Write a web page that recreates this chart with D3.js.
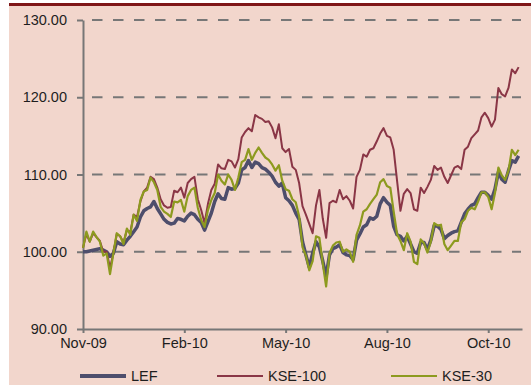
<!DOCTYPE html>
<html>
<head>
<meta charset="utf-8">
<script src="https://cdn.jsdelivr.net/npm/d3@7"></script>
<style>
  html, body { margin: 0; padding: 0; background: #fff; }
  svg { display: block; }
  text { font-family: "Liberation Sans", Arial, sans-serif; fill: #1e1e1e; }
</style>
</head>
<body>
<div id="chart"></div>
<script>
// tick labels sit every 30 observations
var tickIdx = [0, 30, 60, 90, 120];
var tickLabels = ['Nov-09', 'Feb-10', 'May-10', 'Aug-10', 'Oct-10'];
var yTicks = [90, 100, 110, 120, 130];

var seriesNames = ['LEF', 'KSE-100', 'KSE-30'];

var lef = [
  100.0, 100.0, 100.1, 100.2, 100.3, 100.4, 100.2, 100.0, 99.4, 99.8,
  101.3, 101.0, 100.9, 101.5, 102.0, 102.6, 103.2, 104.5, 105.3, 105.6,
  105.8, 106.5, 105.6, 104.9, 104.2, 103.8, 103.6, 103.7, 104.3, 104.2,
  104.0, 104.6, 105.0, 104.8, 104.2, 103.8, 102.8, 103.9, 105.0, 106.5,
  107.5, 106.9, 106.8, 108.3, 108.1, 108.2, 108.9, 110.6, 110.9, 111.8,
  110.9, 111.6, 111.4, 110.9, 110.7, 110.3, 109.8, 109.0, 108.5, 108.9,
  107.0, 106.6, 106.0, 105.0, 104.2, 101.3, 99.6, 98.0, 99.8, 101.3,
  100.6, 98.8, 96.8, 99.6, 100.4, 100.6, 100.9, 99.9, 99.6, 99.5,
  99.0, 101.5, 102.3, 103.2, 103.5, 104.4, 104.2, 104.6, 106.2, 107.0,
  106.4, 106.0, 103.3, 102.2, 102.0, 101.4, 102.0, 101.0, 100.0, 99.8,
  101.2, 101.2, 100.3, 101.5, 103.4, 103.3, 102.9, 101.7, 102.1, 102.4,
  102.6, 102.7, 103.8, 104.9, 105.5, 106.0, 106.2, 107.0, 107.7, 107.7,
  107.3, 106.8, 108.1, 110.3, 109.4, 109.0, 110.5, 111.8, 111.6, 112.4
];

var kse100 = [
  100.5, 102.3, 101.3, 102.4, 101.9, 101.4, 100.0, 100.0, 97.9, 99.8,
  102.3, 102.0, 101.2, 102.8, 102.5, 104.8, 104.5, 106.5, 107.8, 108.3,
  109.7, 109.4, 108.3, 106.8, 106.0, 105.7, 105.8, 107.9, 107.7, 108.3,
  107.0, 108.9, 109.4, 109.7, 106.8, 105.4, 103.7, 106.2, 108.0, 108.8,
  111.3, 110.8, 110.7, 111.9, 111.7, 110.9, 112.0, 114.8, 115.5, 116.0,
  115.6, 117.7, 117.4, 117.2, 116.8, 116.9, 116.1, 114.7, 116.5, 113.4,
  112.9, 113.3, 111.0, 110.6, 108.9, 105.9, 104.8, 103.6, 102.4, 106.0,
  108.0, 104.3, 101.8, 106.3, 106.6, 106.4, 108.0, 106.8, 107.2, 106.6,
  105.6, 109.7, 110.6, 112.6, 112.3, 113.2, 113.4, 114.3, 115.3, 116.0,
  115.0, 114.8, 113.2, 109.2, 105.3, 107.5, 108.1, 107.6, 105.5, 105.3,
  108.3, 107.6, 108.4, 109.3, 111.1, 110.6, 110.9, 109.7, 108.9, 109.9,
  110.9, 111.1, 110.7, 113.2, 113.6, 114.7, 115.2, 115.7, 117.4, 118.0,
  117.3, 116.2, 117.1, 121.2, 120.4, 120.1, 121.2, 123.6, 123.1, 123.9
];

var kse30 = [
  100.5, 102.6, 101.3, 102.6, 101.9, 101.3, 99.5, 99.8, 97.1, 99.8,
  102.4, 102.0, 101.0, 103.0, 102.2, 104.8, 104.0, 106.7, 107.8, 108.0,
  109.6, 109.0, 108.0, 105.8, 105.2, 104.9, 104.5, 106.5, 106.4, 106.7,
  105.2, 107.2, 108.0, 108.3, 105.7, 104.1, 103.2, 105.4, 106.7, 107.6,
  110.0, 109.2, 108.7, 110.0, 109.3, 108.0, 109.6, 111.6, 111.9, 113.3,
  111.9, 112.8, 113.5, 112.8, 112.2, 111.9, 111.3, 110.5, 111.2, 109.2,
  108.1, 107.9, 106.8, 106.4, 104.6, 100.6, 99.5, 97.6, 98.8, 102.0,
  101.8, 98.5, 95.5, 99.8, 100.8, 101.2, 101.3, 100.0, 100.3, 100.0,
  98.7, 102.2, 103.4, 105.2, 105.5, 106.2, 106.8, 107.4, 109.0, 109.4,
  108.5, 108.3, 105.2, 102.3, 101.4, 100.2, 102.4, 101.3, 98.7, 98.4,
  101.6, 101.1, 99.9, 101.3, 103.7, 103.4, 103.5, 101.0, 100.2, 100.8,
  101.4, 101.4, 103.8, 104.2, 105.3, 105.7, 105.5, 106.5, 107.7, 107.7,
  107.1, 105.5, 107.6, 110.9, 109.9, 109.3, 110.5, 113.2, 112.5, 113.2
];

var width = 531, height = 385;

var svg = d3.select('#chart')
  .append('svg')
  .attr('width', width)
  .attr('height', height);

// panel background + dark red top rule
svg.append('rect')
  .attr('x', 9).attr('y', 5)
  .attr('width', width - 9).attr('height', height - 5)
  .attr('fill', '#f2d6cc');

svg.append('rect')
  .attr('x', 9).attr('y', 3)
  .attr('width', width - 9).attr('height', 3)
  .attr('fill', '#7f1718');

var x = d3.scaleLinear().domain([0, 130]).range([83, 522]);
var y = d3.scaleLinear().domain([90, 130]).range([329, 20]);

// dashed gridlines
svg.append('g')
  .selectAll('line')
  .data(yTicks.slice(1))
  .enter()
  .append('line')
  .attr('x1', 86)
  .attr('x2', 521)
  .attr('y1', function(d){ return y(d); })
  .attr('y2', function(d){ return y(d); })
  .attr('stroke', '#777')
  .attr('stroke-width', 2)
  .attr('stroke-dasharray', '10.5,10.5')
  .attr('stroke-dashoffset', -6);

// y axis
var yAxis = svg.append('g')
  .attr('transform', 'translate(83,0)')
  .call(d3.axisLeft(y)
    .tickValues(yTicks)
    .tickFormat(d3.format('.2f'))
    .tickSize(6)
    .tickSizeOuter(0)
    .tickPadding(10));

// x axis
var xAxis = svg.append('g')
  .attr('transform', 'translate(0,' + y(90) + ')')
  .call(d3.axisBottom(x)
    .tickValues(tickIdx)
    .tickFormat(function(d, i){ return tickLabels[i]; })
    .tickSize(4)
    .tickSizeOuter(0)
    .tickPadding(5));

svg.selectAll('.domain').attr('stroke', '#777').attr('stroke-width', 2);
svg.selectAll('.tick line').attr('stroke', '#777').attr('stroke-width', 2);
svg.selectAll('.tick text')
  .style('font-family', '"Liberation Sans", Arial, sans-serif')
  .style('font-size', '14.5px')
  .attr('fill', '#1e1e1e');

var line = d3.line()
  .x(function(d, i){ return x(i); })
  .y(function(d){ return y(d); });

var series = [
  { name: 'LEF', values: lef, color: '#4e4e6c', w: 3.5 },
  { name: 'KSE-100', values: kse100, color: '#8a3646', w: 2 },
  { name: 'KSE-30', values: kse30, color: '#8d9a1f', w: 2.2 }
];

svg.append('g')
  .selectAll('path')
  .data(series)
  .enter()
  .append('path')
  .attr('d', function(d){ return line(d.values); })
  .attr('fill', 'none')
  .attr('stroke', function(d){ return d.color; })
  .attr('stroke-width', function(d){ return d.w; })
  .attr('stroke-linejoin', 'round');

// legend
var legendX = [80, 217, 391];
var leg = svg.append('g')
  .selectAll('g')
  .data(series)
  .enter()
  .append('g')
  .attr('transform', function(d, i){ return 'translate(' + legendX[i] + ',376)'; });

leg.append('line')
  .attr('x1', 0).attr('x2', 46)
  .attr('y1', 0).attr('y2', 0)
  .attr('stroke', function(d){ return d.color; })
  .attr('stroke-width', function(d, i){ return i === 0 ? 4 : 2; });

leg.append('text')
  .attr('x', 51)
  .attr('y', 5)
  .style('font-size', '14.5px')
  .text(function(d, i){ return seriesNames[i]; });
</script>
</body>
</html>
